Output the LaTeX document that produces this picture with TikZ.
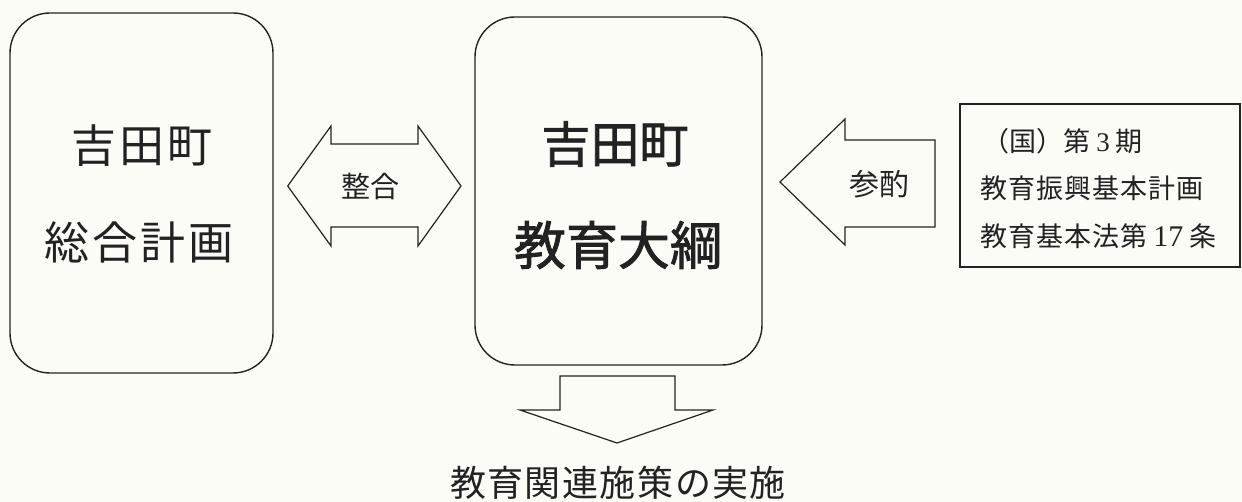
\documentclass[tikz,border=0pt]{standalone}
\usepackage{fontspec}
\setmainfont{Liberation Serif}
\newfontfamily\cjk{Noto Sans CJK JP}
\newfontfamily\cjkm{Noto Sans CJK JP}[FakeBold=1.6]
\definecolor{paper}{HTML}{FCFCF6}
\definecolor{ink}{HTML}{222222}
\tikzset{
  roundbox/.style={draw=ink, line width=1.4pt, rounded corners=40pt, inner sep=0pt},
  plainbox/.style={draw=ink, line width=1.2pt, inner sep=0pt},
  blockarrow/.style={draw=ink, line width=1.2pt, line join=miter},
  lbl/.style={text=ink, inner sep=0pt, align=center},
}
\begin{document}
\begin{tikzpicture}[x=1pt,y=-1pt]
\fill[paper] (0,0) rectangle (1242,502);
\useasboundingbox (0,0) rectangle (1242,502);
% boxes
\node[roundbox, minimum width=263pt, minimum height=360pt] (plan) at (141.5,193) {};
\node[roundbox, minimum width=287pt, minimum height=348pt] (taiko) at (618.5,191) {};
\node[plainbox, minimum width=280pt, minimum height=163pt] (ref) at (1100,185.5) {};
% box texts
\node[lbl, font=\cjk\fontsize{45}{54}\selectfont] (plan1) at (142,146) {吉\kern3pt 田\kern3pt 町};
\node[lbl, font=\cjk\fontsize{45}{54}\selectfont] (plan2) at (139,242) {総\kern3pt 合\kern3pt 計\kern3pt 画};
\node[lbl, font=\cjkm\fontsize{49}{58}\selectfont] (taiko1) at (615,144) {吉田町};
\node[lbl, font=\cjkm\fontsize{52}{60}\selectfont] (taiko2) at (618,245) {教育大綱};
\node[lbl, font=\cjk\fontsize{27}{30}\selectfont, anchor=west] (ref1) at (982,141) {（国）第 {\rmfamily 3} 期};
\node[lbl, font=\cjk\fontsize{27}{30}\selectfont, anchor=west] (ref2) at (980,188) {教\kern1pt 育\kern1pt 振\kern1pt 興\kern1pt 基\kern1pt 本\kern1pt 計\kern1pt 画};
\node[lbl, font=\cjk\fontsize{27}{30}\selectfont, anchor=west] (ref3) at (980,236) {教\kern1pt 育\kern1pt 基\kern1pt 本\kern1pt 法\kern1pt 第 {\rmfamily\fontsize{30}{30}\selectfont 17} 条};
% double arrow (整合)
\draw[blockarrow] (plan.east |- 0,186) ++(14,0) coordinate (dl)
  -- (331,126) -- (331,144) -- (418,144) -- (418,126) -- (461,186)
  -- (418,246) -- (418,227) -- (331,227) -- (331,246) -- cycle;
\node[lbl, font=\cjk\fontsize{29}{32}\selectfont] (seigo) at (370,186) {整合};
% left arrow (参酌)
\draw[blockarrow] (780,182) coordinate (sl) -- (845,119) -- (845,140) -- (935,140)
  -- (935,227) -- (845,227) -- (845,245) -- cycle;
\node[lbl, font=\cjk\fontsize{30}{32}\selectfont] (sanshaku) at (879,184) {参酌};
% down arrow
\draw[blockarrow] (560,376) -- (675,376) -- (675,410) -- (713,410) -- (617,443) coordinate (dt)
  -- (520,410) -- (560,410) -- cycle;
\node[lbl, font=\cjk\fontsize{36}{40}\selectfont] (jisshi) at (618,483) {教\kern1.5pt 育\kern1.5pt 関\kern1.5pt 連\kern1.5pt 施\kern1.5pt 策\kern1.5pt の\kern1.5pt 実\kern1.5pt 施};
\end{tikzpicture}
\end{document}
